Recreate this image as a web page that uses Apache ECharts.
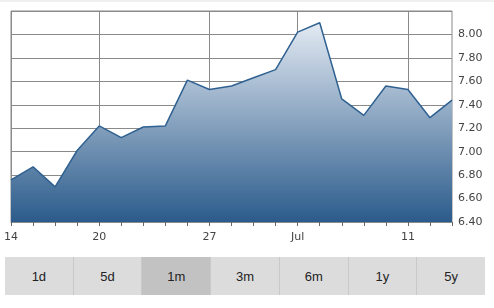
<!DOCTYPE html>
<html>
<head>
<meta charset="utf-8">
<script src="https://cdn.jsdelivr.net/npm/echarts@6/dist/echarts.min.js"></script>
<style>
  html, body { margin: 0; padding: 0; background: #fff; }
  #wrap { position: relative; width: 494px; height: 308px; overflow: hidden; }
  #topband { position: absolute; left: 0; top: 0; width: 494px; height: 2px; background: #f0f0f0; }
  #chart { position: absolute; left: 0; top: 0; width: 494px; height: 250px; }
  #buttons { position: absolute; left: 5px; top: 257px; width: 480px; height: 38px; display: flex; }
  #buttons div { flex: 1; background: #dcdcdc; color: #222; font: 13px "Liberation Sans", Arial, sans-serif;
    display: flex; align-items: center; justify-content: center; border-left: 1px solid #c9c9c9; box-sizing: border-box; }
  #buttons div:first-child { border-left: none; }
  #buttons div.active { background: #c2c2c2; }
</style>
</head>
<body>
<div id="wrap">
  <div id="topband"></div>
  <div id="chart"></div>
  <div id="buttons"></div>
</div>
<script>
// Data
var dates = ["Jun 14","Jun 15","Jun 16","Jun 17","Jun 20","Jun 21","Jun 22","Jun 23","Jun 24","Jun 27",
             "Jun 28","Jun 29","Jun 30","Jul 1","Jul 2","Jul 6","Jul 7","Jul 8","Jul 11","Jul 12","Jul 13"];
var prices = [6.76, 6.87, 6.70, 7.01, 7.22, 7.12, 7.21, 7.22, 7.61, 7.53,
              7.56, 7.63, 7.70, 8.02, 8.10, 7.45, 7.31, 7.56, 7.53, 7.29, 7.44];
var tickLabels = {0: "14", 4: "20", 9: "27", 13: "Jul", 18: "11"};
var yTicks = [6.40, 6.60, 6.80, 7.00, 7.20, 7.40, 7.60, 7.80, 8.00, 8.20];
var ranges = ["1d", "5d", "1m", "3m", "6m", "1y", "5y"];
var activeRange = "1m";

var btns = document.getElementById('buttons');
ranges.forEach(function (r) {
  var d = document.createElement('div');
  d.textContent = r;
  if (r === activeRange) d.className = 'active';
  btns.appendChild(d);
});

var chart = echarts.init(document.getElementById('chart'), null, {renderer: 'canvas'});
var gridColor = '#8a8a8a';
var font = '"DejaVu Sans", Verdana, sans-serif';
chart.setOption({
  animation: false,
  grid: { left: 11, right: 42, top: 11, bottom: 28, show: true, borderColor: gridColor, borderWidth: 1, backgroundColor: 'transparent' },
  xAxis: {
    type: 'category',
    data: dates,
    boundaryGap: false,
    axisLine: { show: true, lineStyle: { color: gridColor, width: 1 } },
    axisTick: { show: true, interval: 0, length: 4, lineStyle: { color: '#666' } },
    axisLabel: {
      interval: function (i) { return tickLabels[i] !== undefined; },
      formatter: function (v, i) { return tickLabels[i] || ''; },
      color: '#444', fontSize: 11, fontFamily: font, margin: 10
    },
    splitLine: {
      show: true,
      interval: function (i) { return tickLabels[i] !== undefined; },
      lineStyle: { color: gridColor, width: 1 }
    }
  },
  yAxis: {
    type: 'value',
    position: 'right',
    min: yTicks[0], max: yTicks[yTicks.length - 1], interval: 0.2,
    axisLine: { show: false },
    axisTick: { show: false },
    axisLabel: {
      color: '#444', fontSize: 11, fontFamily: font, margin: 6,
      formatter: function (v) { return v >= 8.19 ? '' : v.toFixed(2); }
    },
    splitLine: { show: true, lineStyle: { color: gridColor, width: 1 } }
  },
  series: [{
    type: 'line',
    data: prices,
    symbol: 'none',
    lineStyle: { color: '#2f6191', width: 1.5 },
    areaStyle: {
      opacity: 1,
      color: new echarts.graphic.LinearGradient(0, 0, 0, 1, [
        { offset: 0, color: '#e3eaf3' },
        { offset: 1, color: '#2b5b8b' }
      ])
    }
  }]
});
</script>
</body>
</html>
